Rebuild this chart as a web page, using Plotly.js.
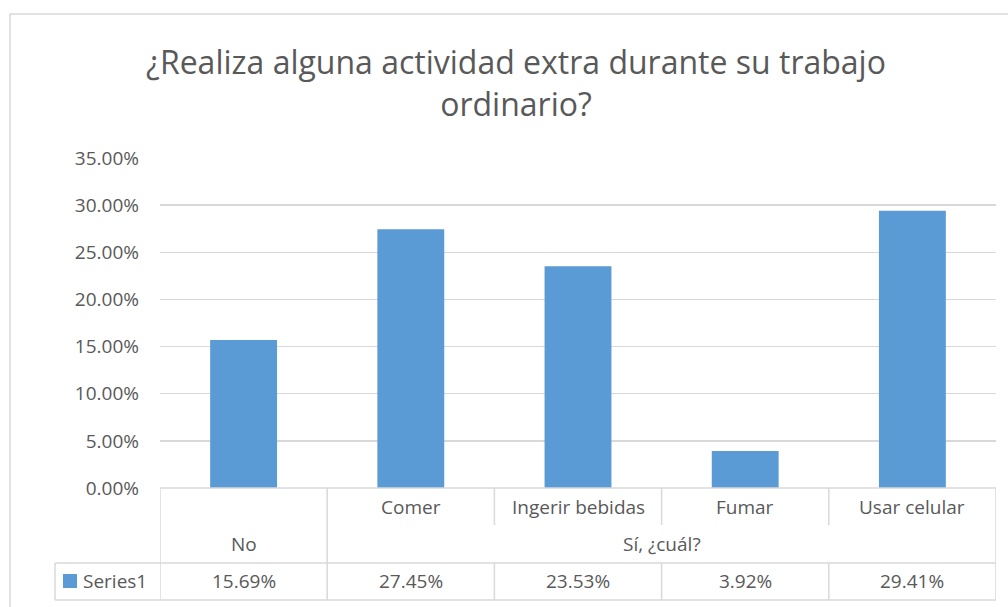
<!DOCTYPE html>
<html>
<head>
<meta charset="utf-8">
<script src="https://cdn.plot.ly/plotly-3.0.1.min.js"></script>
<style>
  html, body { margin: 0; padding: 0; background: #ffffff; }
  #chart { width: 1008px; height: 607px; }
</style>
</head>
<body>
<div id="chart"></div>
<script>
// ---- data ----
const categories = ['No', 'Comer', 'Ingerir bebidas', 'Fumar', 'Usar celular'];
const subLabels = ['', 'Comer', 'Ingerir bebidas', 'Fumar', 'Usar celular'];
const groupLabels = ['No', 'Sí, ¿cuál?'];
const groupFirst = [0, 1];
const groupLast = [0, 4];
const values = [0.1569, 0.2745, 0.2353, 0.0392, 0.2941];
const seriesName = 'Series1';
const chartTitle = '¿Realiza alguna actividad extra durante su trabajo<br>ordinario?';

// ---- layout helpers (pixel positions of the plot area) ----
const W = 1008, H = 607;
const M = { l: 160, r: 12, t: 158, b: 119 };
const plotW = W - M.l - M.r;
const plotH = H - M.t - M.b;
const px = (x) => (x - M.l) / plotW;      // page x -> paper x
const py = (y) => (H - M.b - y) / plotH;  // page y -> paper y

const FONT = 'Open Sans, sans-serif';
const TXT = '#595959';
const GRID = '#d9d9d9';
const BAR = '#5b9bd5';

// table rows (page y)
const rowTop = 488, row1Mid = 507, row2Mid = 544, row3Top = 563, row3Mid = 581, rowBot = 600;
const legendLeft = 55;

let shapes = [];
let annotations = [];

let line = (x0, y0, x1, y1, xref) => ({
  type: 'line', xref: xref, yref: 'paper', x0: x0, x1: x1, y0: y0, y1: y1,
  line: { color: GRID, width: 1.5 }
});

let cellText = (x, y, text, xref, xanchor) => ({
  x: x, y: y, xref: xref, yref: 'paper', text: text,
  xanchor: xanchor || 'center', yanchor: 'middle',
  showarrow: false, font: { family: FONT, size: 19, color: TXT }
});

// chart frame
shapes.push({
  type: 'rect', xref: 'paper', yref: 'paper',
  x0: px(10), x1: px(1030), y0: py(14), y1: py(630),
  line: { color: GRID, width: 1.5 }, fillcolor: 'rgba(0,0,0,0)', layer: 'below'
});

// table horizontal lines
shapes.push(line(-0.5, py(rowTop), categories.length - 0.5, py(rowTop), 'x'));
shapes.push(line(px(legendLeft), py(row3Top), 1, py(row3Top), 'paper'));
shapes.push(line(px(legendLeft), py(rowBot), 1, py(rowBot), 'paper'));
shapes.push(line(px(legendLeft), py(row3Top), px(legendLeft), py(rowBot), 'paper'));

// table vertical lines
for (let i = 0; i <= categories.length; i++) {
  let xb = i - 0.5;
  let isGroupEdge = i === 0 || i === categories.length || groupFirst.includes(i);
  if (isGroupEdge) {
    shapes.push(line(xb, py(rowTop), xb, py(rowBot), 'x'));
  } else {
    shapes.push(line(xb, py(rowTop), xb, py(525), 'x'));
    shapes.push(line(xb, py(row3Top), xb, py(rowBot), 'x'));
  }
}

// table texts: sub labels and values
categories.forEach((c, i) => {
  if (subLabels[i]) annotations.push(cellText(c, py(row1Mid), subLabels[i], 'x'));
  annotations.push(cellText(c, py(row3Mid), (values[i] * 100).toFixed(2) + '%', 'x'));
});

// group labels
groupLabels.forEach((g, k) => {
  annotations.push(cellText((groupFirst[k] + groupLast[k]) / 2, py(row2Mid), g, 'x'));
});

// legend key in the table
shapes.push({
  type: 'rect', xref: 'paper', yref: 'paper',
  x0: px(63), x1: px(77), y0: py(588), y1: py(574),
  line: { width: 0 }, fillcolor: BAR
});
annotations.push(cellText(px(81), py(row3Mid), seriesName, 'paper', 'left'));

let trace = {
  type: 'bar',
  x: categories,
  y: values,
  name: seriesName,
  width: 0.4,
  marker: { color: BAR },
  hoverinfo: 'none'
};

let layout = {
  width: W, height: H,
  margin: M,
  paper_bgcolor: '#ffffff', plot_bgcolor: '#ffffff',
  showlegend: false,
  title: {
    text: chartTitle,
    font: { family: FONT, size: 32, color: TXT },
    x: 516 / W, xref: 'container', xanchor: 'center',
    y: 1 - 74 / H, yref: 'container', yanchor: 'top'
  },
  xaxis: {
    type: 'category', range: [-0.5, categories.length - 0.5],
    showticklabels: false, showgrid: false, zeroline: false, showline: false, ticks: ''
  },
  yaxis: {
    range: [0, 0.35], dtick: 0.05, tickformat: '.2%',
    showgrid: true, gridcolor: GRID, gridwidth: 1.5,
    zeroline: false, showline: false, ticks: '',
    ticklabelstandoff: 20,
    tickfont: { family: FONT, size: 19, color: TXT }
  },
  shapes: shapes,
  annotations: annotations
};

Plotly.newPlot('chart', [trace], layout, { staticPlot: true, displayModeBar: false });
</script>
</body>
</html>
